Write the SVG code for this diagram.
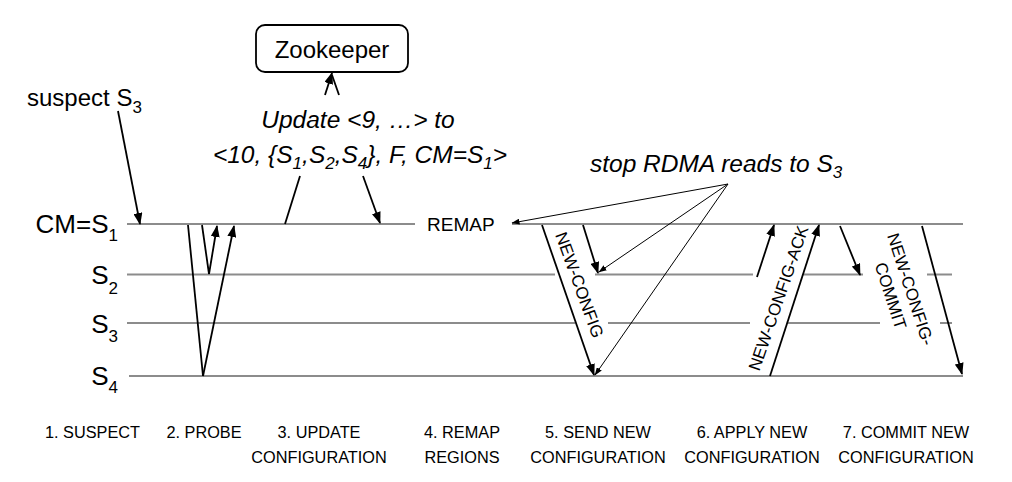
<svg xmlns="http://www.w3.org/2000/svg" width="1012" height="482" viewBox="0 0 1012 482">
  <style>
    text { font-family: "Liberation Sans", Arial, sans-serif; fill: #000; }
    .lbl { font-size: 26px; }
    .sub { font-size: 17px; }
    .isub { font-size: 17px; }
    .it { font-style: italic; font-size: 24.5px; }
    .msg { font-size: 17px; }
    .step { font-size: 16.3px; text-anchor: middle; }
    .life { stroke: #8c8c8c; stroke-width: 2; fill: none; }
    .arr { stroke: #000; stroke-width: 1.8; fill: none; }
    .thin { stroke: #000; stroke-width: 1; fill: none; }
  </style>
  <defs>
    <marker id="head" markerUnits="userSpaceOnUse" markerWidth="12" markerHeight="9" refX="11" refY="4.5" orient="auto">
      <path d="M0,0 L12,4.5 L0,9 z" fill="#000"/>
    </marker>
    <marker id="headThin" markerUnits="userSpaceOnUse" markerWidth="8" markerHeight="6" refX="7.5" refY="3" orient="auto">
      <path d="M0,0 L8,3 L0,6 z" fill="#000"/>
    </marker>
  </defs>

  <rect width="1012" height="482" fill="#fff"/>

  <!-- process lifelines -->
  <g id="lifeline-cm">
    <path class="life" d="M127,224 H415 M512,224 H963"/>
    <text class="lbl" x="118" y="233" text-anchor="end">CM=S<tspan class="sub" dy="8">1</tspan></text>
  </g>
  <g id="lifeline-s2">
    <path class="life" d="M127,274.5 H555 M595,274.5 H753 M803,274.5 H863 M927,274.5 H952"/>
    <text class="lbl" x="118" y="284" text-anchor="end">S<tspan class="sub" dy="10">2</tspan></text>
  </g>
  <g id="lifeline-s3">
    <path class="life" d="M127,323 H575 M608,323 H750 M788,323 H880 M940,323 H952"/>
    <text class="lbl" x="118" y="333" text-anchor="end">S<tspan class="sub" dy="9">3</tspan></text>
  </g>
  <g id="lifeline-s4">
    <path class="life" d="M129,376 H963"/>
    <text class="lbl" x="118" y="385" text-anchor="end">S<tspan class="sub" dy="8">4</tspan></text>
  </g>

  <!-- configuration store -->
  <g id="zookeeper">
    <rect x="256" y="25" width="152" height="47" rx="9" fill="#fff" stroke="#000" stroke-width="1.8"/>
    <text x="332" y="58" font-size="24" text-anchor="middle">Zookeeper</text>
  </g>

  <!-- annotations -->
  <g id="note-suspect">
    <text x="27" y="106" font-size="24">suspect S<tspan class="sub" dy="7">3</tspan></text>
  </g>
  <g id="note-update">
    <text class="it" x="358" y="128" text-anchor="middle">Update &lt;9, …&gt; to</text>
    <text class="it" x="360" y="163" text-anchor="middle">&lt;10, {S<tspan class="isub" dy="6">1</tspan><tspan dy="-6">,S</tspan><tspan class="isub" dy="6">2</tspan><tspan dy="-6">,S</tspan><tspan class="isub" dy="6">4</tspan><tspan dy="-6">}, F, CM=S</tspan><tspan class="isub" dy="6">1</tspan><tspan dy="-6">&gt;</tspan></text>
  </g>
  <g id="note-remap">
    <text x="427" y="231" font-size="19">REMAP</text>
  </g>
  <g id="note-stop">
    <text class="it" x="590" y="172">stop RDMA reads to S<tspan class="isub" dy="6">3</tspan></text>
  </g>

  <!-- message labels -->
  <g id="msg-new-config">
    <text class="msg" transform="translate(574,287) rotate(70)" text-anchor="middle">NEW-CONFIG</text>
  </g>
  <g id="msg-new-config-ack">
    <text class="msg" transform="translate(784,300) rotate(-71)" text-anchor="middle">NEW-CONFIG-ACK</text>
  </g>
  <g id="msg-new-config-commit">
    <text class="msg" transform="translate(905,291) rotate(72)" text-anchor="middle"><tspan x="0" y="0">NEW-CONFIG-</tspan><tspan x="0" y="21">COMMIT</tspan></text>
  </g>

  <!-- connectors -->
  <g id="connectors">
    <line class="arr" x1="118" y1="111" x2="140" y2="224" marker-end="url(#head)"/>
    <line class="arr" x1="325" y1="95" x2="332" y2="73" marker-end="url(#head)"/>
    <line class="arr" x1="332" y1="75" x2="339" y2="95"/>
    <line class="arr" x1="300" y1="176" x2="285" y2="224"/>
    <line class="arr" x1="363" y1="176" x2="380" y2="223" marker-end="url(#head)"/>

    <!-- probe -->
    <line class="arr" x1="188" y1="225" x2="203" y2="376"/>
    <line class="arr" x1="203" y1="376" x2="234" y2="226" marker-end="url(#head)"/>
    <line class="arr" x1="202" y1="225" x2="209" y2="274"/>
    <line class="arr" x1="209" y1="274" x2="217" y2="226" marker-end="url(#head)"/>

    <!-- send new configuration -->
    <line class="arr" x1="542" y1="225" x2="594" y2="375" marker-end="url(#head)"/>
    <line class="arr" x1="583" y1="225" x2="598" y2="273" marker-end="url(#head)"/>

    <!-- apply new configuration -->
    <line class="arr" x1="757" y1="277" x2="774" y2="225" marker-end="url(#head)"/>
    <line class="arr" x1="770" y1="376" x2="819" y2="225" marker-end="url(#head)"/>

    <!-- commit new configuration -->
    <line class="arr" x1="840" y1="226" x2="860" y2="275" marker-end="url(#head)"/>
    <line class="arr" x1="922" y1="226" x2="962" y2="374" marker-end="url(#head)"/>

    <!-- stop RDMA reads -->
    <line class="thin" x1="728" y1="184" x2="512" y2="223" marker-end="url(#headThin)"/>
    <line class="thin" x1="728" y1="184" x2="599" y2="272" marker-end="url(#headThin)"/>
    <line class="thin" x1="728" y1="184" x2="595" y2="375" marker-end="url(#headThin)"/>
  </g>

  <!-- phase captions -->
  <g id="steps">
    <text class="step" x="92.5" y="438">1. SUSPECT</text>
    <text class="step" x="204" y="438">2. PROBE</text>
    <text class="step" x="319" y="438">3. UPDATE</text>
    <text class="step" x="319" y="463">CONFIGURATION</text>
    <text class="step" x="462" y="438">4. REMAP</text>
    <text class="step" x="462" y="463">REGIONS</text>
    <text class="step" x="598" y="438">5. SEND NEW</text>
    <text class="step" x="598" y="463">CONFIGURATION</text>
    <text class="step" x="752" y="438">6. APPLY NEW</text>
    <text class="step" x="752" y="463">CONFIGURATION</text>
    <text class="step" x="906" y="438">7. COMMIT NEW</text>
    <text class="step" x="906" y="463">CONFIGURATION</text>
  </g>
</svg>
